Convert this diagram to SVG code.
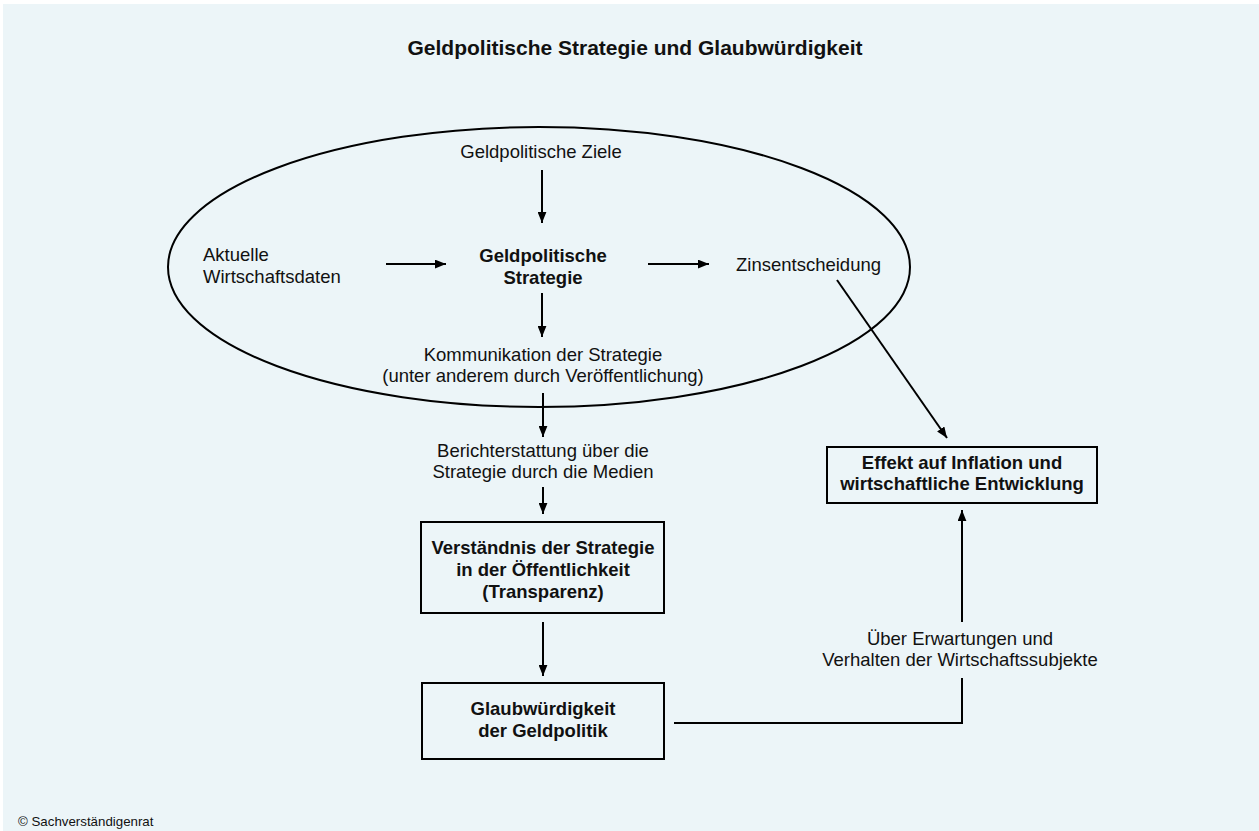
<svg xmlns="http://www.w3.org/2000/svg" width="1259" height="831" viewBox="0 0 1259 831">
<defs>
<style>
text{font-family:"Liberation Sans",Arial,sans-serif;fill:#111;}
.t{font-size:18.5px;}
.b{font-size:18.5px;font-weight:bold;}
.title{font-size:21px;font-weight:bold;}
.foot{font-size:13.3px;}
.c{text-anchor:middle;}
.ln{fill:none;stroke:#000;stroke-width:2;}
.box{fill:none;stroke:#000;stroke-width:2;}
</style>
<marker id="ah" viewBox="0 0 10 8" refX="10" refY="4" markerWidth="11" markerHeight="9" markerUnits="userSpaceOnUse" orient="auto">
<path d="M0,0 L10,4 L0,8 z" fill="#000"/>
</marker>
</defs>
<rect x="0" y="0" width="1259" height="831" fill="#ffffff"/>
<rect x="3" y="4" width="1256" height="827" fill="#ECF5F8"/>
<text class="title c" x="635" y="55">Geldpolitische Strategie und Glaubwürdigkeit</text>

<g id="ellipse">
<ellipse cx="539" cy="267" rx="371" ry="140" class="ln"/>
</g>
<g id="ziele">
<text class="t c" x="541" y="158">Geldpolitische Ziele</text>
</g>
<g id="daten">
<text class="t" x="203" y="261">Aktuelle</text>
<text class="t" x="203" y="283">Wirtschaftsdaten</text>
</g>
<g id="strategie">
<text class="b c" x="543" y="262">Geldpolitische</text>
<text class="b c" x="543" y="284">Strategie</text>
</g>
<g id="zins">
<text class="t" x="736" y="271">Zinsentscheidung</text>
</g>
<g id="kommunikation">
<text class="t c" x="543" y="361">Kommunikation der Strategie</text>
<text class="t c" x="543" y="382">(unter anderem durch Veröffentlichung)</text>
</g>
<g id="medien">
<text class="t c" x="543" y="457">Berichterstattung über die</text>
<text class="t c" x="543" y="478">Strategie durch die Medien</text>
</g>
<g id="verstaendnis">
<rect class="box" x="421" y="522" width="243" height="91"/>
<text class="b c" x="543" y="554">Verständnis der Strategie</text>
<text class="b c" x="543" y="576">in der Öffentlichkeit</text>
<text class="b c" x="543" y="598">(Transparenz)</text>
</g>
<g id="glaubwuerdigkeit">
<rect class="box" x="422" y="683" width="242" height="76"/>
<text class="b c" x="543" y="715">Glaubwürdigkeit</text>
<text class="b c" x="543" y="737">der Geldpolitik</text>
</g>
<g id="effekt">
<rect class="box" x="827" y="447" width="270" height="56"/>
<text class="b c" x="962" y="469">Effekt auf Inflation und</text>
<text class="b c" x="962" y="490">wirtschaftliche Entwicklung</text>
</g>
<g id="erwartungen">
<text class="t c" x="960" y="645">Über Erwartungen und</text>
<text class="t c" x="960" y="666">Verhalten der Wirtschaftssubjekte</text>
</g>
<g id="connectors">
<line class="ln" x1="542" y1="170" x2="542" y2="223" marker-end="url(#ah)"/>
<line class="ln" x1="386" y1="264" x2="446" y2="264" marker-end="url(#ah)"/>
<line class="ln" x1="648" y1="264" x2="709" y2="264" marker-end="url(#ah)"/>
<line class="ln" x1="542" y1="293" x2="542" y2="337" marker-end="url(#ah)"/>
<line class="ln" x1="543" y1="393" x2="543" y2="437" marker-end="url(#ah)"/>
<line class="ln" x1="543" y1="487" x2="543" y2="514" marker-end="url(#ah)"/>
<line class="ln" x1="543" y1="622" x2="543" y2="676" marker-end="url(#ah)"/>
<line class="ln" x1="837" y1="280" x2="947" y2="438" marker-end="url(#ah)"/>
<polyline class="ln" points="674,723 962,723 962,678"/>
<line class="ln" x1="962" y1="622" x2="962" y2="510" marker-end="url(#ah)"/>
</g>
<text class="foot" x="18" y="826">© Sachverständigenrat</text>
</svg>
